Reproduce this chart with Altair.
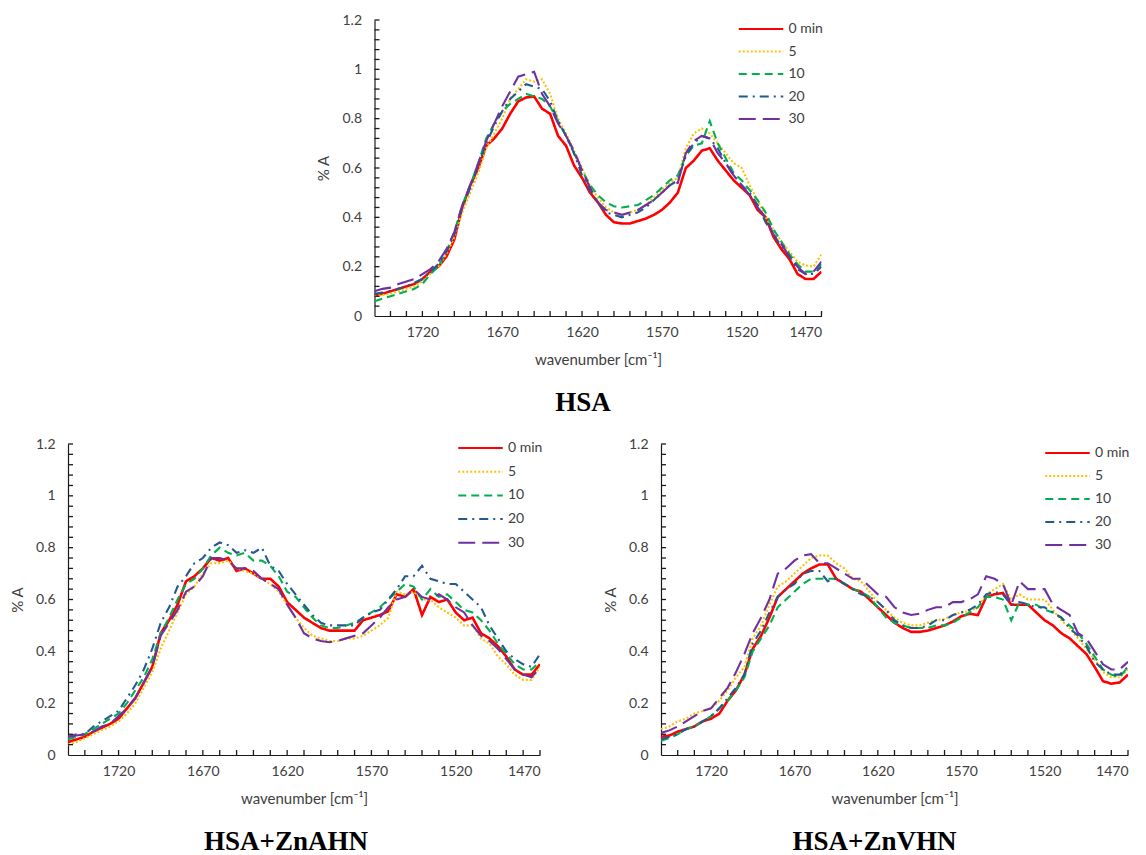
import altair as alt
import pandas as pd

# ---------------- data ----------------
WAVENUMBER = [1750, 1745, 1740, 1735, 1730, 1725, 1720, 1715, 1710, 1705,
              1700, 1695, 1690, 1685, 1680, 1675, 1670, 1665, 1660, 1655,
              1650, 1645, 1640, 1635, 1630, 1625, 1620, 1615, 1610, 1605,
              1600, 1595, 1590, 1585, 1580, 1575, 1570, 1565, 1560, 1555,
              1550, 1545, 1540, 1535, 1530, 1525, 1520, 1515, 1510, 1505,
              1500, 1495, 1490, 1485, 1480, 1475, 1470]

SERIES = ["0 min", "5", "10", "20", "30"]

HSA_0 = [0.085, 0.09, 0.10, 0.11, 0.12, 0.13, 0.15, 0.18, 0.20, 0.24,
         0.31, 0.44, 0.53, 0.60, 0.69, 0.72, 0.76, 0.82, 0.87, 0.886,
         0.89, 0.84, 0.82, 0.73, 0.69, 0.61, 0.56, 0.50, 0.46, 0.41,
         0.38, 0.375, 0.375, 0.385, 0.395, 0.41, 0.43, 0.46, 0.50, 0.60,
         0.63, 0.67, 0.68, 0.63, 0.59, 0.55, 0.52, 0.49, 0.43, 0.40,
         0.32, 0.27, 0.23, 0.17, 0.15, 0.15, 0.18]
HSA_5 = [0.08, 0.085, 0.09, 0.10, 0.11, 0.12, 0.14, 0.17, 0.20, 0.25,
         0.32, 0.42, 0.50, 0.58, 0.68, 0.74, 0.80, 0.88, 0.92, 0.96,
         0.95, 0.96, 0.90, 0.80, 0.74, 0.67, 0.60, 0.53, 0.48, 0.44,
         0.42, 0.41, 0.42, 0.43, 0.45, 0.48, 0.51, 0.54, 0.56, 0.68,
         0.74, 0.76, 0.74, 0.70, 0.66, 0.62, 0.60, 0.53, 0.47, 0.40,
         0.35, 0.30, 0.26, 0.22, 0.205, 0.20, 0.25]
HSA_10 = [0.06, 0.07, 0.08, 0.09, 0.10, 0.11, 0.13, 0.17, 0.20, 0.26,
          0.34, 0.45, 0.53, 0.62, 0.72, 0.78, 0.83, 0.86, 0.88, 0.90,
          0.89, 0.88, 0.85, 0.79, 0.73, 0.66, 0.59, 0.53, 0.49, 0.46,
          0.445, 0.44, 0.445, 0.45, 0.47, 0.49, 0.52, 0.55, 0.57, 0.65,
          0.69, 0.70, 0.79, 0.70, 0.64, 0.58, 0.55, 0.51, 0.47, 0.42,
          0.35, 0.30, 0.25, 0.21, 0.18, 0.18, 0.21]
HSA_20 = [0.09, 0.095, 0.10, 0.11, 0.12, 0.135, 0.15, 0.18, 0.21, 0.26,
          0.33, 0.44, 0.52, 0.61, 0.70, 0.77, 0.83, 0.88, 0.91, 0.94,
          0.93, 0.92, 0.87, 0.79, 0.73, 0.66, 0.57, 0.51, 0.46, 0.42,
          0.41, 0.40, 0.41, 0.42, 0.44, 0.47, 0.50, 0.53, 0.55, 0.65,
          0.70, 0.73, 0.72, 0.68, 0.62, 0.57, 0.53, 0.50, 0.45, 0.38,
          0.33, 0.28, 0.24, 0.19, 0.17, 0.17, 0.20]
HSA_30 = [0.10, 0.11, 0.115, 0.13, 0.14, 0.15, 0.17, 0.19, 0.22, 0.27,
          0.34, 0.45, 0.53, 0.62, 0.71, 0.78, 0.85, 0.91, 0.97, 0.98,
          0.99, 0.90, 0.85, 0.78, 0.73, 0.67, 0.59, 0.52, 0.46, 0.43,
          0.42, 0.41, 0.42, 0.43, 0.45, 0.47, 0.50, 0.53, 0.54, 0.66,
          0.71, 0.73, 0.72, 0.66, 0.62, 0.57, 0.53, 0.49, 0.44, 0.40,
          0.33, 0.29, 0.24, 0.20, 0.17, 0.18, 0.22]

AHN_0 = [0.05, 0.06, 0.07, 0.09, 0.105, 0.12, 0.14, 0.18, 0.22, 0.28,
         0.34, 0.47, 0.52, 0.58, 0.67, 0.69, 0.72, 0.76, 0.75, 0.76,
         0.71, 0.72, 0.70, 0.68, 0.68, 0.65, 0.59, 0.56, 0.53, 0.51,
         0.49, 0.48, 0.48, 0.48, 0.48, 0.52, 0.53, 0.54, 0.555, 0.62,
         0.61, 0.64, 0.54, 0.61, 0.59, 0.60, 0.55, 0.52, 0.53, 0.47,
         0.45, 0.42, 0.38, 0.33, 0.31, 0.31, 0.35]
AHN_5 = [0.04, 0.05, 0.065, 0.08, 0.095, 0.11, 0.13, 0.16, 0.20, 0.26,
         0.32, 0.41, 0.48, 0.55, 0.62, 0.65, 0.70, 0.74, 0.74, 0.75,
         0.72, 0.71, 0.70, 0.68, 0.66, 0.63, 0.58, 0.53, 0.49, 0.46,
         0.45, 0.44, 0.44, 0.45, 0.45, 0.46, 0.48, 0.50, 0.53, 0.63,
         0.62, 0.63, 0.60, 0.60, 0.57, 0.55, 0.53, 0.50, 0.50, 0.45,
         0.43, 0.38, 0.35, 0.31, 0.29, 0.29, 0.34]
AHN_10 = [0.06, 0.07, 0.08, 0.10, 0.12, 0.14, 0.16, 0.20, 0.25, 0.30,
          0.37, 0.47, 0.53, 0.60, 0.66, 0.68, 0.72, 0.77, 0.80, 0.78,
          0.77, 0.78, 0.75, 0.75, 0.73, 0.69, 0.63, 0.61, 0.57, 0.53,
          0.50, 0.49, 0.49, 0.50, 0.51, 0.53, 0.55, 0.57, 0.60, 0.63,
          0.66, 0.65, 0.60, 0.64, 0.61, 0.62, 0.59, 0.56, 0.55, 0.52,
          0.48, 0.43, 0.39, 0.35, 0.33, 0.33, 0.36]
AHN_20 = [0.07, 0.08, 0.08, 0.11, 0.13, 0.15, 0.17, 0.22, 0.27, 0.33,
          0.41, 0.51, 0.57, 0.65, 0.69, 0.74, 0.76, 0.80, 0.82, 0.81,
          0.78, 0.79, 0.78, 0.80, 0.73, 0.71, 0.66, 0.62, 0.58, 0.54,
          0.51, 0.50, 0.50, 0.50, 0.50, 0.53, 0.55, 0.56, 0.60, 0.64,
          0.69, 0.69, 0.73, 0.68, 0.67, 0.66, 0.66, 0.63, 0.60, 0.57,
          0.50, 0.45, 0.40, 0.37, 0.35, 0.34, 0.39]
AHN_30 = [0.07, 0.075, 0.08, 0.09, 0.11, 0.12, 0.15, 0.18, 0.22, 0.28,
          0.34, 0.46, 0.51, 0.56, 0.63, 0.65, 0.69, 0.76, 0.76, 0.75,
          0.72, 0.72, 0.71, 0.68, 0.66, 0.64, 0.58, 0.53, 0.47, 0.45,
          0.44, 0.435, 0.44, 0.45, 0.46, 0.47, 0.50, 0.53, 0.57, 0.60,
          0.61, 0.64, 0.61, 0.60, 0.62, 0.60, 0.57, 0.55, 0.50, 0.46,
          0.44, 0.41, 0.37, 0.33, 0.31, 0.30, 0.34]

VHN_0 = [0.07, 0.075, 0.09, 0.10, 0.11, 0.13, 0.14, 0.16, 0.21, 0.25,
         0.31, 0.41, 0.46, 0.53, 0.61, 0.64, 0.67, 0.70, 0.72, 0.735,
         0.735, 0.68, 0.66, 0.64, 0.63, 0.60, 0.57, 0.54, 0.51, 0.49,
         0.475, 0.475, 0.48, 0.49, 0.50, 0.515, 0.535, 0.545, 0.54, 0.61,
         0.62, 0.625, 0.58, 0.58, 0.58, 0.55, 0.52, 0.50, 0.47, 0.45,
         0.42, 0.39, 0.34, 0.285, 0.275, 0.28, 0.31]
VHN_5 = [0.10, 0.11, 0.13, 0.14, 0.16, 0.17, 0.18, 0.21, 0.25, 0.30,
         0.34, 0.45, 0.50, 0.58, 0.65, 0.67, 0.70, 0.73, 0.76, 0.77,
         0.77, 0.74, 0.72, 0.68, 0.67, 0.63, 0.59, 0.56, 0.53, 0.51,
         0.50, 0.50, 0.51, 0.52, 0.525, 0.54, 0.55, 0.555, 0.57, 0.62,
         0.64, 0.66, 0.60, 0.62, 0.60, 0.60, 0.60, 0.56, 0.52, 0.49,
         0.45, 0.41, 0.37, 0.32, 0.30, 0.30, 0.33]
VHN_10 = [0.055, 0.065, 0.08, 0.10, 0.11, 0.13, 0.15, 0.18, 0.21, 0.25,
          0.30, 0.40, 0.45, 0.50, 0.57, 0.60, 0.63, 0.66, 0.68, 0.68,
          0.68, 0.68, 0.66, 0.64, 0.63, 0.61, 0.57, 0.53, 0.51, 0.50,
          0.49, 0.49, 0.49, 0.50, 0.50, 0.51, 0.53, 0.55, 0.57, 0.61,
          0.61, 0.60, 0.52, 0.59, 0.58, 0.58, 0.56, 0.55, 0.53, 0.50,
          0.47, 0.43, 0.38, 0.33, 0.31, 0.30, 0.34]
VHN_20 = [0.06, 0.07, 0.08, 0.10, 0.11, 0.13, 0.15, 0.18, 0.22, 0.26,
          0.31, 0.43, 0.48, 0.55, 0.61, 0.64, 0.66, 0.70, 0.71, 0.71,
          0.67, 0.68, 0.66, 0.64, 0.62, 0.61, 0.59, 0.56, 0.52, 0.50,
          0.49, 0.49, 0.50, 0.52, 0.52, 0.54, 0.55, 0.56, 0.58, 0.62,
          0.63, 0.62, 0.58, 0.59, 0.58, 0.57, 0.57, 0.55, 0.53, 0.49,
          0.46, 0.42, 0.36, 0.33, 0.31, 0.31, 0.34]
VHN_30 = [0.085, 0.095, 0.11, 0.13, 0.15, 0.17, 0.18, 0.22, 0.26, 0.32,
          0.39, 0.47, 0.53, 0.60, 0.70, 0.72, 0.75, 0.77, 0.775, 0.74,
          0.74, 0.72, 0.70, 0.68, 0.68, 0.65, 0.62, 0.61, 0.57, 0.55,
          0.54, 0.545, 0.56, 0.57, 0.57, 0.59, 0.59, 0.60, 0.62, 0.69,
          0.68, 0.66, 0.58, 0.67, 0.64, 0.64, 0.64, 0.58, 0.56, 0.54,
          0.47, 0.45, 0.40, 0.35, 0.33, 0.33, 0.36]

X_LABELS = [1720, 1670, 1620, 1570, 1520, 1470]
Y_LABELS = [0, 0.2, 0.4, 0.6, 0.8, 1, 1.2]
X_MINOR_STEP = 10     # minor tick spacing on the wavenumber axis
Y_MINOR_STEP = 0.04   # minor tick spacing on the %A axis

# ---------------- style ----------------
COLORS = ["#FF0000", "#FFC000", "#00B050", "#23598F", "#7030A0"]
DASHES = [[1, 0], [2, 2], [8, 5], [9, 5, 2, 5], [17, 7]]
AXIS = "#1a1a1a"
TEXT = "#404040"
FONT = "Lato"
X_LEFT, X_RIGHT = 1750, 1470
Y_BOTTOM, Y_TOP = 0, 1.2


def make_axis(values, fmt, title, label_pad, title_pad):
    return alt.Axis(values=values, format=fmt, title=title,
                    ticks=False, tickSize=0, labelPadding=label_pad,
                    titlePadding=title_pad, grid=False,
                    labelFont=FONT, labelFontSize=14, labelColor=TEXT,
                    titleFont=FONT, titleFontSize=15, titleFontWeight="normal",
                    titleColor=TEXT, domainColor=AXIS, domainWidth=1.2)


def panel(series_values, title, width, height, legend_x, legend_y, row_pad, title_dx):
    rows = []
    for name, vals in zip(SERIES, series_values):
        assert len(vals) == len(WAVENUMBER), (title, name, len(vals))
        for w, a in zip(WAVENUMBER, vals):
            rows.append({"wavenumber": w, "absorbance": a, "series": name})
    df = pd.DataFrame(rows)

    x_scale = alt.Scale(domain=[X_RIGHT, X_LEFT], reverse=True, nice=False, zero=False)
    y_scale = alt.Scale(domain=[Y_BOTTOM, Y_TOP], nice=False, zero=False)
    x_axis = make_axis(X_LABELS, "d", "wavenumber [cm⁻¹]", 9, 13)
    y_axis = make_axis(Y_LABELS, "~g", "% A", 13, 10)

    legend = alt.Legend(
        title=None, orient="none", legendX=legend_x, legendY=legend_y,
        symbolType="stroke", symbolSize=1980, symbolStrokeWidth=2,
        labelFont=FONT, labelFontSize=14, labelColor=TEXT,
        rowPadding=row_pad, clipHeight=16, labelOffset=4, padding=0,
    )

    base = alt.Chart(df)

    lines = base.mark_line(clip=True).encode(
        x=alt.X("wavenumber:Q", scale=x_scale, axis=x_axis),
        y=alt.Y("absorbance:Q", scale=y_scale, axis=y_axis),
        color=alt.Color("series:N", scale=alt.Scale(domain=SERIES, range=COLORS), legend=legend),
        strokeDash=alt.StrokeDash("series:N", scale=alt.Scale(domain=SERIES, range=DASHES), legend=legend),
        strokeWidth=alt.condition(alt.datum.series == "0 min", alt.value(2.6), alt.value(2.1)),
    )

    # inward minor ticks (Excel style), derived from the shared data so they live in the same dataset
    tick_len_y = (Y_TOP - Y_BOTTOM) * 5.0 / height
    tick_len_x = (X_LEFT - X_RIGHT) * 5.0 / width
    x_ticks = base.transform_filter(
        f"datum.series === '{SERIES[0]}' && datum.wavenumber % {X_MINOR_STEP} === 0 && datum.wavenumber < {X_LEFT}"
    ).mark_rule(color=AXIS, strokeWidth=1.3).encode(
        x=alt.X("wavenumber:Q", scale=x_scale, axis=x_axis),
        y=alt.YDatum(Y_BOTTOM, scale=y_scale, axis=y_axis),
        y2=alt.Y2Datum(Y_BOTTOM + tick_len_y),
    )
    y_ticks = base.transform_filter(
        f"datum.series === '{SERIES[0]}'"
    ).transform_calculate(
        tick=f"({X_LEFT} - datum.wavenumber) / 5 * {Y_MINOR_STEP}"
    ).transform_filter(
        f"datum.tick > 0 && datum.tick <= {Y_TOP + 0.001}"
    ).mark_rule(color=AXIS, strokeWidth=1.3).encode(
        y=alt.Y("tick:Q", scale=y_scale, axis=y_axis),
        x=alt.XDatum(X_LEFT, scale=x_scale, axis=x_axis),
        x2=alt.X2Datum(X_LEFT - tick_len_x),
    )

    return alt.layer(lines, x_ticks, y_ticks).properties(
        width=width, height=height,
        title=alt.TitleParams(text=title, orient="bottom", anchor="middle",
                              font="Liberation Serif", fontSize=27, fontWeight="bold",
                              color="#000000", offset=23, dx=title_dx),
    )


top = panel([HSA_0, HSA_5, HSA_10, HSA_20, HSA_30], "HSA",
            447, 296, 363, 1, 6.5, -15)
left = panel([AHN_0, AHN_5, AHN_10, AHN_20, AHN_30], "HSA+ZnAHN",
             472, 311, 389, -4, 7.7, -18)
right = panel([VHN_0, VHN_5, VHN_10, VHN_20, VHN_30], "HSA+ZnVHN",
              467, 311, 383, 1, 7.0, -20)

bottom = alt.hconcat(left, right, spacing=60).resolve_scale(
    color="independent", strokeDash="independent")

chart = alt.vconcat(top, bottom, spacing=21, center=True).resolve_scale(
    color="independent", strokeDash="independent"
).properties(
    padding={"left": 2, "top": 5, "right": 0, "bottom": 5},
    background="white",
).configure_view(strokeWidth=0, stroke="transparent")

chart.save("out.html", embed_options={"renderer": "svg", "actions": False})
